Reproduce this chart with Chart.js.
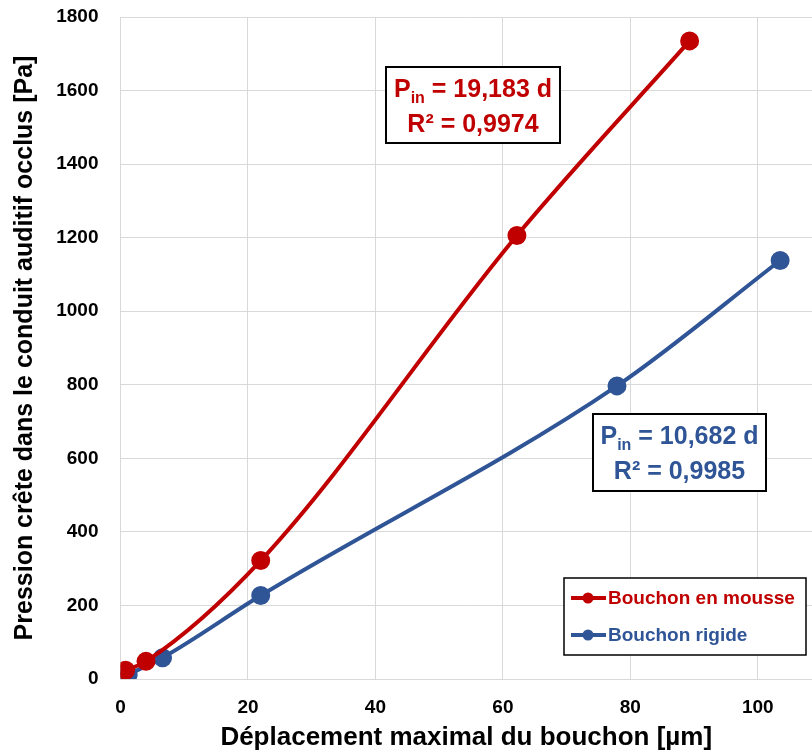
<!DOCTYPE html>
<html>
<head>
<meta charset="utf-8">
<script src="https://cdn.jsdelivr.net/npm/chart.js@4.4.1/dist/chart.umd.min.js"></script>
<style>
  html, body { margin: 0; padding: 0; background: #fff; overflow: hidden; }
  #wrap { width: 812px; height: 753px; }
</style>
</head>
<body>
<div id="wrap"><canvas id="pressionChart" width="812" height="753"></canvas></div>
<script>
// données
const mousseX = [0.8, 4.0, 22.0, 62.2, 89.3];
const mousseY = [24, 48, 322, 1206, 1735];
const rigideX = [1.2, 6.6, 22.0, 77.9, 103.5];
const rigideY = [12, 58, 227, 797, 1138];
const seriesLabels = ['Bouchon en mousse', 'Bouchon rigide'];
const fitLines = [['19,183 d', '0,9974'], ['10,682 d', '0,9985']];
const xTicks = [0, 20, 40, 60, 80, 100];

const RED = '#C00000';
const BLUE = '#2F5597';
const FONT = "'Liberation Sans', Arial, sans-serif";

function toPoints(xs, ys) {
    return xs.map((x, i) => ({ x: x, y: ys[i] }));
}

// boites d'équation (position en pixels du canvas)
const boxPlugin = {
    id: 'fitBoxes',
    afterDraw(chart) {
        const ctx = chart.ctx;
        const boxes = [
            { x: 386, y: 67, w: 174, h: 76, color: RED, txt: fitLines[0] },
            { x: 593, y: 414, w: 173, h: 77, color: BLUE, txt: fitLines[1] }
        ];
        boxes.forEach(b => {
            ctx.save();
            ctx.fillStyle = '#fff';
            ctx.fillRect(b.x, b.y, b.w, b.h);
            ctx.strokeStyle = '#000';
            ctx.lineWidth = 2;
            ctx.strokeRect(b.x, b.y, b.w, b.h);

            ctx.fillStyle = b.color;
            ctx.textBaseline = 'alphabetic';
            // ligne 1 : P_in = ...
            const big = 'bold 25px ' + FONT;
            const small = 'bold 16px ' + FONT;
            ctx.font = big;
            const wP = ctx.measureText('P').width;
            const rest = ' = ' + b.txt[0];
            const wRest = ctx.measureText(rest).width;
            ctx.font = small;
            const wSub = ctx.measureText('in').width;
            const total = wP + wSub + wRest;
            let x0 = b.x + (b.w - total) / 2;
            const y1 = b.y + 30;
            ctx.font = big;
            ctx.textAlign = 'left';
            ctx.fillText('P', x0, y1);
            ctx.font = small;
            ctx.fillText('in', x0 + wP, y1 + 6);
            ctx.font = big;
            ctx.fillText(rest, x0 + wP + wSub, y1);
            // ligne 2 : R² = ...
            ctx.textAlign = 'center';
            ctx.fillText('R\u00B2 = ' + b.txt[1], b.x + b.w / 2, b.y + 65);
            ctx.restore();
        });
    }
};

// légende encadrée dans la zone de tracé
const legendPlugin = {
    id: 'boxLegend',
    afterDraw(chart) {
        const ctx = chart.ctx;
        const bx = 564, by = 578, bw = 242, bh = 77;
        ctx.save();
        ctx.fillStyle = '#fff';
        ctx.fillRect(bx, by, bw, bh);
        ctx.strokeStyle = '#000';
        ctx.lineWidth = 1.5;
        ctx.strokeRect(bx, by, bw, bh);
        chart.data.datasets.forEach((ds, i) => {
            const cy = by + 20 + i * 37;
            ctx.strokeStyle = ds.borderColor;
            ctx.lineWidth = 4;
            ctx.beginPath();
            ctx.moveTo(571, cy);
            ctx.lineTo(606, cy);
            ctx.stroke();
            ctx.fillStyle = ds.borderColor;
            ctx.beginPath();
            ctx.arc(588, cy, 5.5, 0, Math.PI * 2);
            ctx.fill();
            ctx.font = 'bold 19px ' + FONT;
            ctx.textAlign = 'left';
            ctx.textBaseline = 'middle';
            ctx.fillText(ds.label, 608, cy + 1);
        });
        ctx.restore();
    }
};

new Chart(document.getElementById('pressionChart'), {
    type: 'scatter',
    data: {
        datasets: [
            {
                label: seriesLabels[0],
                data: toPoints(mousseX, mousseY),
                showLine: true,
                borderColor: RED,
                backgroundColor: RED,
                borderWidth: 4,
                pointRadius: 7.5,
                pointHoverRadius: 7.5,
                cubicInterpolationMode: 'monotone'
            },
            {
                label: seriesLabels[1],
                data: toPoints(rigideX, rigideY),
                showLine: true,
                borderColor: BLUE,
                backgroundColor: BLUE,
                borderWidth: 4,
                pointRadius: 7.5,
                pointHoverRadius: 7.5,
                cubicInterpolationMode: 'monotone'
            }
        ]
    },
    options: {
        responsive: false,
        animation: false,
        layout: { autoPadding: false, padding: { top: 17, right: 0, left: 0, bottom: 0 } },
        plugins: {
            legend: { display: false },
            tooltip: { enabled: false }
        },
        scales: {
            x: {
                type: 'linear',
                min: 0,
                max: 108.5,
                afterFit(scale) {
                    scale.height = 74;
                    scale.paddingLeft = 0;
                    scale.paddingRight = 0;
                },
                afterBuildTicks(scale) {
                    scale.ticks = xTicks.map(v => ({ value: v }));
                },
                grid: { color: '#d9d9d9', lineWidth: 1, drawTicks: false },
                border: { color: '#d9d9d9', width: 1 },
                ticks: {
                    padding: 17,
                    color: '#000',
                    font: { family: FONT, size: 19, weight: 'bold' },
                    callback: v => String(v)
                },
                title: {
                    display: true,
                    text: 'Déplacement maximal du bouchon [µm]',
                    color: '#000',
                    font: { family: FONT, size: 26, weight: 'bold' },
                    padding: { top: 0, bottom: 0 }
                }
            },
            y: {
                type: 'linear',
                min: 0,
                max: 1800,
                afterFit(scale) {
                    scale.width = 120.5;
                    scale.paddingTop = 0;
                    scale.paddingBottom = 0;
                },
                grid: { color: '#d9d9d9', lineWidth: 1, drawTicks: false },
                border: { color: '#d9d9d9', width: 1 },
                ticks: {
                    stepSize: 200,
                    padding: 22,
                    color: '#000',
                    font: { family: FONT, size: 19, weight: 'bold' },
                    callback: v => String(v)
                },
                title: {
                    display: true,
                    text: 'Pression crête dans le conduit auditif occlus [Pa]',
                    color: '#000',
                    font: { family: FONT, size: 25, weight: 'bold' },
                    padding: { top: 10, bottom: 0 }
                }
            }
        }
    },
    plugins: [boxPlugin, legendPlugin]
});
</script>
</body>
</html>
